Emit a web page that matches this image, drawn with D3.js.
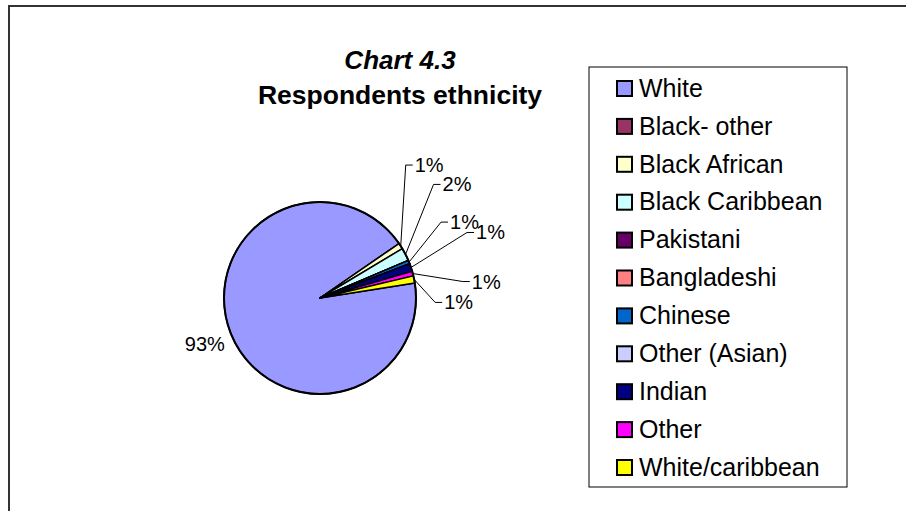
<!DOCTYPE html>
<html>
<head>
<meta charset="utf-8">
<script src="https://cdn.jsdelivr.net/npm/d3@7"></script>
<style>
  body { margin: 0; background: #fff; }
  text { font-family: "Liberation Sans", Arial, sans-serif; }
</style>
</head>
<body>
<div id="chart"></div>
<script>
// Data (percent of respondents)
const categories = ["White", "Black- other", "Black African", "Black Caribbean", "Pakistani",
  "Bangladeshi", "Chinese", "Other (Asian)", "Indian", "Other", "White/caribbean"];
const values = [92.9, 0, 1.0, 2.2, 0, 0, 0.6, 0, 1.3, 0.8, 1.2];
const colors = ["#9999ff", "#993366", "#ffffcc", "#ccffff", "#660066",
  "#ff8080", "#0066cc", "#ccccff", "#000080", "#ff00ff", "#ffff00"];

// Leader line elbows for the small slices (offset from slice edge), like dragged Excel labels
const leaderOffsets = {
  "Black African": [5, -81],
  "Black Caribbean": [28, -70],
  "Chinese": [32, -40],
  "Indian": [56, -35],
  "Other": [50, 8],
  "White/caribbean": [21, 23]
};

const width = 906, height = 511;
const cx = 320, cy = 298, radius = 96;
const startDeg = 81;

const svg = d3.select('#chart').append('svg')
  .attr('width', width)
  .attr('height', height);

// chart area border (runs off the right and bottom)
svg.append('rect')
  .attr('x', 9).attr('y', 6)
  .attr('width', width + 20).attr('height', height + 20)
  .attr('fill', 'none')
  .attr('stroke', '#333')
  .attr('stroke-width', 2);

// Title
svg.append('text')
  .attr('x', 400).attr('y', 69)
  .attr('text-anchor', 'middle')
  .style('font-size', '26px').style('font-weight', 'bold').style('font-style', 'italic')
  .text('Chart 4.3');
svg.append('text')
  .attr('x', 400).attr('y', 104)
  .attr('text-anchor', 'middle')
  .style('font-size', '26.5px').style('font-weight', 'bold')
  .text('Respondents ethnicity');

const data = categories.map((c, i) => ({ name: c, value: values[i], color: colors[i] }));
const total = d3.sum(values);

const pie = d3.pie()
  .sort(null)
  .value(d => d.value)
  .startAngle(startDeg * Math.PI / 180)
  .endAngle(startDeg * Math.PI / 180 + 2 * Math.PI);

const arcs = pie(data);
const arc = d3.arc().innerRadius(0).outerRadius(radius);

const g = svg.append('g').attr('transform', `translate(${cx},${cy})`);

g.selectAll('path.slice')
  .data(arcs)
  .enter().append('path')
  .attr('class', 'slice')
  .attr('d', arc)
  .attr('fill', d => d.data.color)
  .attr('stroke', '#000')
  .attr('stroke-width', 1.5)
  .attr('stroke-linejoin', 'round');

g.append('circle')
  .attr('r', radius)
  .attr('fill', 'none')
  .attr('stroke', '#000')
  .attr('stroke-width', 2);

const pct = d3.format('.0%');
const polar = (a, r) => [Math.sin(a) * r, -Math.cos(a) * r];

// labels
arcs.forEach(d => {
  if (d.data.value <= 0) return;
  const mid = (d.startAngle + d.endAngle) / 2;
  const label = pct(d.data.value / total);
  const off = leaderOffsets[d.data.name];
  if (!off) {
    const [lx, ly] = polar(mid, radius + 28);
    g.append('text')
      .attr('x', lx).attr('y', ly)
      .attr('text-anchor', 'middle')
      .attr('dy', '0.35em')
      .style('font-size', '20px')
      .text(label);
    return;
  }
  const [ex, ey] = polar(mid, radius);
  const bx = ex + off[0], by = ey + off[1];
  g.append('polyline')
    .attr('points', [[ex, ey], [bx, by], [bx + 7, by]].map(p => p.join(',')).join(' '))
    .attr('fill', 'none')
    .attr('stroke', '#000')
    .attr('stroke-width', 1);
  g.append('text')
    .attr('x', bx + 9).attr('y', by + 7)
    .style('font-size', '20px')
    .text(label);
});

// Legend
const legend = svg.append('g');
legend.append('rect')
  .attr('x', 589).attr('y', 67)
  .attr('width', 258).attr('height', 420)
  .attr('fill', '#fff')
  .attr('stroke', '#000')
  .attr('stroke-width', 1);

const rowY = d3.scalePoint()
  .domain(categories)
  .range([88, 467]);

const item = legend.selectAll('g.item')
  .data(data)
  .enter().append('g')
  .attr('class', 'item')
  .attr('transform', d => `translate(0,${rowY(d.name)})`);

item.append('rect')
  .attr('x', 617).attr('y', -7)
  .attr('width', 15).attr('height', 15)
  .attr('fill', d => d.color)
  .attr('stroke', '#000')
  .attr('stroke-width', 2);

item.append('text')
  .attr('x', 639).attr('y', 0)
  .attr('dy', '0.35em')
  .style('font-size', '25px')
  .text(d => d.name);
</script>
</body>
</html>
